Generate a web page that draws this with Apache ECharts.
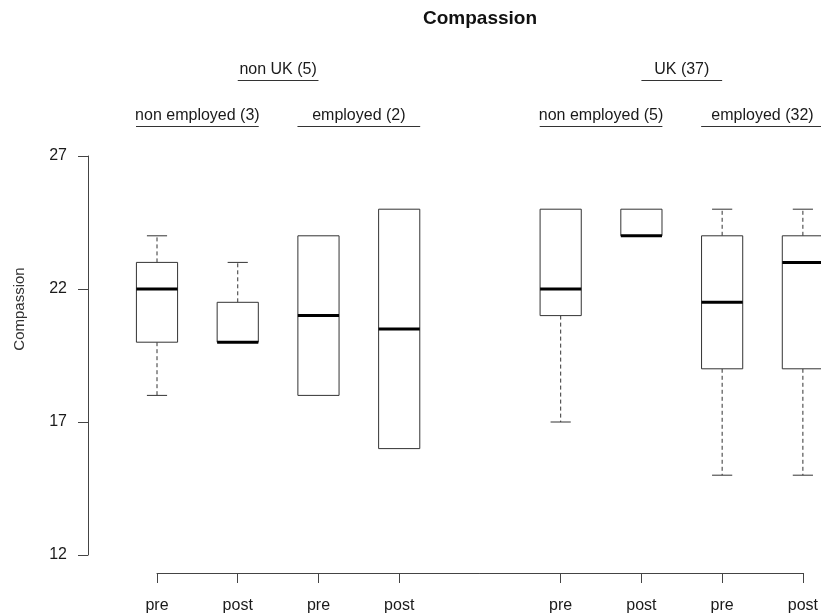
<!DOCTYPE html>
<html><head><meta charset="utf-8">
<script src="https://cdn.jsdelivr.net/npm/echarts@6/dist/echarts.min.js"></script>
<style>html,body{margin:0;padding:0;background:#fff}#c{width:821px;height:614px}</style>
</head><body><div id="c"></div>
<script>
const categories = ['pre','post','pre','post','','pre','post','pre','post'];
const whiskerLow  = [18, 20, 18, 16,   null, 17, 24, 15,   15];
const q1          = [20, 20, 18, 16,   null, 21, 24, 19,   19];
const median      = [22, 20, 21, 20.5, null, 22, 24, 21.5, 23];
const q3          = [23, 21.5, 24, 25, null, 25, 25, 24,   24];
const whiskerHigh = [24, 23, 24, 25,   null, 25, 25, 25,   25];
const upperGroups = ['non UK (5)', 'UK (37)'];
const upperCenters = [1.5, 6.5];
const lowerGroups = ['non employed (3)', 'employed (2)', 'non employed (5)', 'employed (32)'];
const lowerCenters = [0.5, 2.5, 5.5, 7.5];
const titleText = 'Compassion';
const yName = 'Compassion';

const FONT = '"Liberation Sans", Arial, sans-serif';
const boxData = [];
categories.forEach((c, i) => {
  if (median[i] != null) boxData.push([i, whiskerLow[i], q1[i], median[i], q3[i], whiskerHigh[i]]);
});
const groupData = upperCenters.map((c, i) => [c, 0, i]).concat(lowerCenters.map((c, i) => [c, 1, i]));

const stroke = '#333';
function renderBox(params, api) {
  const x = api.value(0);
  const unit = api.size([1, 0])[0];
  const half = unit * 0.255, cap = unit * 0.125;
  const lo = api.value(1), a = api.value(2), m = api.value(3), b = api.value(4), hi = api.value(5);
  const pLo = api.coord([x, lo]), pQ1 = api.coord([x, a]), pM = api.coord([x, m]), pQ3 = api.coord([x, b]), pHi = api.coord([x, hi]);
  const cx = pM[0];
  const ch = [];
  const dashed = {stroke: stroke, lineWidth: 1, lineDash: [4, 3]};
  const solid = {stroke: stroke, lineWidth: 1};
  if (hi > b) {
    ch.push({type: 'line', shape: {x1: cx, y1: pQ3[1], x2: cx, y2: pHi[1]}, style: dashed});
    ch.push({type: 'line', shape: {x1: cx - cap, y1: pHi[1], x2: cx + cap, y2: pHi[1]}, style: solid});
  }
  if (lo < a) {
    ch.push({type: 'line', shape: {x1: cx, y1: pQ1[1], x2: cx, y2: pLo[1]}, style: dashed});
    ch.push({type: 'line', shape: {x1: cx - cap, y1: pLo[1], x2: cx + cap, y2: pLo[1]}, style: solid});
  }
  ch.push({type: 'rect', shape: {x: cx - half, y: pQ3[1], width: half * 2, height: pQ1[1] - pQ3[1]},
    style: {fill: '#fff', stroke: stroke, lineWidth: 1}});
  ch.push({type: 'line', shape: {x1: cx - half, y1: pM[1], x2: cx + half, y2: pM[1]},
    style: {stroke: '#000', lineWidth: 3}});
  return {type: 'group', children: ch};
}

function renderGroup(params, api) {
  const c = api.value(0), row = api.value(1), idx = api.value(2);
  const unit = api.size([1, 0])[0];
  const cx = api.coord([c, 20])[0];
  const text = row === 0 ? upperGroups[idx] : lowerGroups[idx];
  const halfLen = row === 0 ? 0.5 * unit : 0.76 * unit;
  const ty = row === 0 ? 70 : 116;
  const ly = row === 0 ? 80.5 : 126.5;
  return {type: 'group', children: [
    {type: 'text', style: {text: text, x: cx, y: ty, align: 'center', verticalAlign: 'middle',
      font: '16px ' + FONT, fill: '#1a1a1a'}},
    {type: 'line', shape: {x1: cx - halfLen, y1: ly, x2: cx + halfLen, y2: ly}, style: {stroke: '#333', lineWidth: 1}}
  ]};
}

const chart = echarts.init(document.getElementById('c'));
chart.setOption({
  animation: false,
  backgroundColor: '#fff',
  grid: [
    {left: 88, top: 156, width: 1, bottom: 59},
    {left: 157, right: 18, top: 156, bottom: 59}
  ],
  xAxis: [
    {gridIndex: 0, type: 'value', show: false},
    {gridIndex: 1, type: 'category', data: categories, boundaryGap: false, position: 'bottom', offset: 18,
      axisLine: {show: true, lineStyle: {color: '#444', width: 1}},
      axisTick: {show: true, length: 10, interval: (i, v) => v !== '', lineStyle: {color: '#444'}},
      axisLabel: {interval: (i, v) => v !== '', margin: 25, fontSize: 16, color: '#1a1a1a', fontFamily: FONT},
      splitLine: {show: false}},
    {gridIndex: 1, type: 'value', min: 0, max: 8, show: false}
  ],
  yAxis: [
    {gridIndex: 0, type: 'value', min: 12, max: 27, interval: 5,
      axisLine: {show: true, lineStyle: {color: '#444', width: 1}},
      axisTick: {show: true, length: 10, lineStyle: {color: '#444'}},
      axisLabel: {margin: 21, fontSize: 16, color: '#1a1a1a', fontFamily: FONT},
      splitLine: {show: false}},
    {gridIndex: 1, type: 'value', min: 12, max: 27, show: false}
  ],
  graphic: [
    {type: 'text', x: 480, y: 19, style: {text: titleText, font: 'bold 19px ' + FONT, fill: '#111', align: 'center', verticalAlign: 'middle'}},
    {type: 'text', x: 20, y: 309, rotation: Math.PI / 2, style: {text: yName, font: '15px ' + FONT, fill: '#333', align: 'center', verticalAlign: 'middle'}}
  ],
  series: [
    {type: 'custom', xAxisIndex: 2, yAxisIndex: 1, renderItem: renderBox, data: boxData, clip: false, silent: true,
      encode: {x: 0, y: [1, 2, 3, 4, 5]}},
    {type: 'custom', xAxisIndex: 2, yAxisIndex: 1, renderItem: renderGroup, data: groupData, clip: false, silent: true,
      encode: {x: 0}}
  ]
});
</script></body></html>
